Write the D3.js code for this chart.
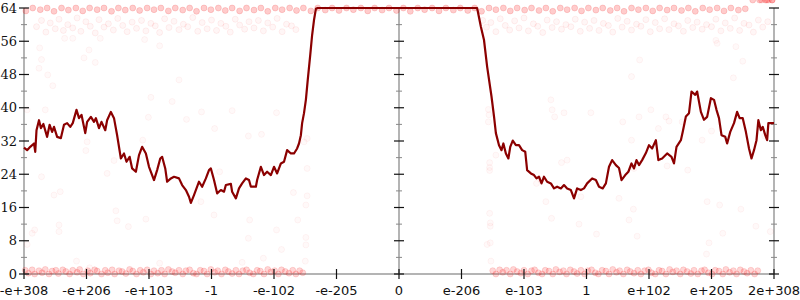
<!DOCTYPE html>
<html><head><meta charset="utf-8">
<script src="https://cdn.jsdelivr.net/npm/d3@7"></script>
<style>body{margin:0;background:#fff}svg{display:block}</style>
</head><body>
<svg id="c" width="800" height="300"></svg>
<script>
// x positions are in "ordered float" tick units: -6 (= -e+308) ... 0 ... 6 (= 2e+308)
const tickLabels = ["-e+308","-e+206","-e+103","-1","-e-102","-e-205","0","e-206","e-103","1","e+102","e+205","2e+308"];
const tickPos = [-6,-5,-4,-3,-2,-1,0,1,2,3,4,5,6];
const yTicks = [0,8,16,24,32,40,48,56,64];
const yMinor = [4,12,20,28,36,44,52,60];

const lineX = [-6.00,-5.95,-5.90,-5.84,-5.82,-5.80,-5.76,-5.73,-5.69,-5.63,-5.59,-5.55,-5.52,-5.47,-5.41,-5.36,-5.31,-5.26,-5.22,-5.16,-5.12,-5.08,-5.02,-4.99,-4.93,-4.88,-4.85,-4.80,-4.76,-4.70,-4.67,-4.61,-4.56,-4.51,-4.45,-4.40,-4.36,-4.31,-4.27,-4.21,-4.16,-4.11,-4.05,-4.00,-3.92,-3.87,-3.82,-3.79,-3.74,-3.71,-3.65,-3.60,-3.52,-3.47,-3.41,-3.36,-3.33,-3.28,-3.20,-3.15,-3.09,-3.04,-3.01,-2.96,-2.91,-2.85,-2.80,-2.77,-2.69,-2.67,-2.61,-2.56,-2.51,-2.45,-2.40,-2.37,-2.29,-2.27,-2.21,-2.16,-2.11,-2.05,-2.00,-1.95,-1.89,-1.84,-1.79,-1.73,-1.68,-1.63,-1.60,-1.57,-1.55,-1.52,-1.49,-1.46,-1.42,-1.39,-1.36,-1.33,-1.30,
 1.25,1.31,1.36,1.41,1.48,1.52,1.55,1.60,1.64,1.67,1.71,1.75,1.78,1.82,1.87,1.92,1.97,2.02,2.05,2.11,2.16,2.20,2.24,2.28,2.32,2.37,2.43,2.48,2.53,2.59,2.64,2.69,2.75,2.80,2.85,2.91,2.96,3.01,3.09,3.15,3.20,3.26,3.31,3.36,3.41,3.47,3.52,3.56,3.62,3.67,3.72,3.76,3.80,3.84,3.89,3.95,4.00,4.05,4.11,4.15,4.21,4.29,4.36,4.40,4.44,4.51,4.54,4.59,4.64,4.68,4.74,4.77,4.83,4.88,4.93,4.99,5.04,5.08,5.12,5.16,5.22,5.25,5.30,5.36,5.41,5.45,5.50,5.55,5.60,5.64,5.68,5.72,5.75,5.79,5.82,5.86,5.89,5.91,6.00];
const lineY = [30.4,29.8,30.6,31.4,29.4,34.6,37.0,35.1,36.1,33.0,35.9,34.2,35.4,33.0,32.7,35.9,36.3,35.4,36.3,39.5,37.5,38.3,33.9,36.6,37.8,36.6,37.5,35.1,36.6,34.6,37.0,39.0,37.5,33.4,27.8,29.0,27.0,28.2,25.4,24.6,28.6,30.6,29.0,25.8,22.6,25.0,27.8,28.2,25.4,22.2,23.0,23.4,23.0,21.4,20.2,18.6,17.1,19.0,22.2,21.0,23.0,25.0,25.4,22.6,19.4,20.2,19.8,21.4,21.7,19.8,18.2,20.6,21.8,23.0,22.6,21.0,21.0,22.6,25.8,23.8,24.6,23.8,25.8,24.2,26.6,27.0,29.8,29.0,29.0,30.2,31.4,33.4,36.3,38.7,41.9,46.7,52.7,57.5,61.1,63.8,64,
 64,59.5,56.3,49.9,42.7,37.9,33.9,31.0,29.8,31.4,29.0,27.8,30.6,32.1,31.0,31.0,29.8,29.4,25.0,24.2,23.8,23.0,23.4,21.8,23.4,22.2,21.8,20.6,21.0,20.6,21.4,20.6,20.2,18.2,20.6,20.2,20.6,21.8,23.0,22.6,21.0,20.6,21.8,25.8,27.4,26.2,25.5,22.6,23.8,24.6,26.6,25.4,27.4,26.2,27.4,29.1,31.0,30.2,32.2,27.4,27.8,29.0,28.2,26.6,30.6,32.2,34.2,37.9,38.7,43.9,43.1,43.9,39.0,37.1,37.8,42.3,41.9,39.5,37.5,33.4,33.0,31.4,34.2,36.3,39.0,37.5,37.5,34.2,30.2,27.8,29.8,32.2,37.0,34.6,35.4,33.4,32.2,36.3,36.3];

// faint sample points
const lowBandX = [-5.98,-5.93,-5.87,-5.83,-5.76,-5.71,-5.66,-5.60,-5.55,-5.49,-5.45,-5.38,-5.33,-5.27,-5.22,-5.15,-5.11,-5.05,-4.98,-4.94,-4.87,-4.83,-4.76,-4.70,-4.66,-4.59,-4.55,-4.48,-4.43,-4.37,-4.31,-4.26,-4.20,-4.14,-4.09,-4.03,-3.97,-3.92,-3.86,-3.80,-3.75,-3.69,-3.63,-3.58,-3.52,-3.46,-3.41,-3.35,-3.29,-3.24,-3.18,-3.12,-3.07,-3.01,-2.95,-2.90,-2.84,-2.78,-2.73,-2.67,-2.61,-2.56,-2.50,-2.44,-2.39,-2.33,-2.27,-2.22,-2.16,-2.10,-2.05,-1.99,-1.93,-1.88,-1.82,-1.76,-1.70,-1.65,-1.59,-1.54,
 1.50,1.55,1.61,1.66,1.72,1.78,1.83,1.89,1.95,2.00,2.06,2.12,2.17,2.23,2.29,2.34,2.40,2.46,2.51,2.57,2.63,2.68,2.74,2.80,2.85,2.91,2.97,3.02,3.08,3.14,3.19,3.25,3.31,3.36,3.42,3.48,3.53,3.59,3.65,3.70,3.76,3.82,3.87,3.93,3.99,4.04,4.10,4.16,4.21,4.27,4.33,4.38,4.44,4.50,4.55,4.61,4.67,4.72,4.78,4.84,4.89,4.95,5.01,5.06,5.12,5.18,5.23,5.29,5.35,5.40,5.46,5.52,5.57,5.63,5.69,5.74,5.80,5.86,5.91,5.97];
const lowBandY = [0.9,0.2,1.0,0,0.8,0.3,1.1,0,0.7,0.9,0.1,1.0,0.6,0,0.9,0.4,1.1,0,0.8,0.2,1.0,0.7,0,0.9,0.3,1.0,0,0.8,0.6,0.1,1.1,0.7,0,0.9,0.4,1.0,0,0.8,0.2,0.9,0,1.1,0.6,0.3,0.9,0,0.8,1.0,0.2,0,0.9,0.7,0,1.1,0.4,0.8,0,1.0,0.6,0.1,0.9,0,0.8,1.0,0.3,0,0.9,0.7,0,1.1,0.5,0.8,0,1.0,0.6,0.2,0.9,0,0.8,0.3,
 0.8,0,1.0,0.4,0.9,0,1.1,0.6,0.2,0.9,0,0.8,1.0,0.3,0,0.9,0.7,0,1.1,0.5,0.8,0,1.0,0.6,0.1,0.9,0,0.8,1.0,0.3,0,0.9,0.7,0,1.1,0.4,0.8,0,1.0,0.6,0.2,0.9,0,0.8,1.0,0.3,0,0.9,0.7,0,1.1,0.5,0.8,0,1.0,0.6,0.1,0.9,0,0.8,1.0,0.3,0,0.9,0.7,0,1.1,0.4,0.8,0,1.0,0.6,0.2,0.9,0,0.8];
const topBandX = [-5.97,-5.86,-5.74,-5.63,-5.52,-5.40,-5.29,-5.17,-5.06,-4.95,-4.83,-4.72,-4.60,-4.49,-4.38,-4.26,-4.15,-4.03,-3.92,-3.81,-3.69,-3.58,-3.46,-3.35,-3.24,-3.12,-3.01,-2.89,-2.78,-2.67,-2.55,-2.44,-2.32,-2.21,-2.10,-1.98,-1.87,-1.75,-1.64,-1.53,-1.41,-1.30,-1.18,-1.07,-0.96,-0.84,-0.73,-0.61,-0.50,-0.39,-0.27,-0.16,-0.04,0.07,0.18,0.30,0.41,0.53,0.64,0.75,0.87,0.98,1.10,1.21,1.32,1.44,1.55,1.67,1.78,1.89,2.01,2.12,2.24,2.35,2.46,2.58,2.69,2.81,2.92,3.03,3.15,3.26,3.38,3.49,3.60,3.72,3.83,3.95,4.06,4.17,4.29,4.40,4.52,4.63,4.74,4.86,4.97,5.09,5.20,5.31,5.43,5.54,5.66,5.77,5.88,5.97];
const topBandY = [63.3,64,63.6,64,63.2,64,63.5,64,63.3,64,63.6,64,63.2,64,63.5,64,63.4,64,63.6,64,63.3,64,63.5,64,63.2,64,63.6,64,63.4,64,63.3,64,63.5,64,63.2,64,63.6,64,63.4,64,63.3,64,63.5,64,63.4,64,63.6,64,63.3,64,63.5,64,63.4,64,63.2,64,63.6,64,63.3,64,63.5,64,63.4,64,63.2,64,63.6,64,63.3,64,63.5,64,63.4,64,63.2,64,63.6,64,63.3,64,63.5,64,63.4,64,63.2,64,63.6,64,63.3,64,63.5,64,63.4,64,63.2,64,63.6,64,63.3,64,63.5,63.8];
const clusterX = [-5.80,-5.72,-5.65,-5.58,-5.50,-5.44,-5.37,-5.30,-5.22,-5.15,-5.09,-5.01,-4.94,-4.86,-4.80,-4.72,-4.65,-4.57,-4.50,-4.42,-4.35,-4.27,-4.20,-4.12,-4.05,-3.97,-3.90,-3.83,-3.75,-3.68,-3.60,-3.52,-3.45,-3.38,-3.30,-3.22,-3.15,-3.07,-3.00,-2.92,-2.85,-2.77,-2.70,-2.62,-2.55,-2.47,-2.40,-2.32,-2.25,-2.17,-2.10,-2.02,-1.95,-1.87,-1.80,-1.72,-1.65,
 1.34,1.40,1.47,1.55,1.62,1.70,1.77,1.85,1.92,2.00,2.07,2.15,2.22,2.30,2.37,2.45,2.52,2.60,2.67,2.75,2.82,2.90,2.97,3.05,3.12,3.20,3.27,3.35,3.42,3.50,3.57,3.65,3.72,3.80,3.87,3.95,4.02,4.10,4.17,4.25,4.32,4.40,4.47,4.55,4.62,4.70,4.77,4.85,4.92,5.00,5.07,5.15,5.22,5.30,5.37,5.45,5.52,5.60,5.67,5.75,5.82,5.90];
const clusterY = [59.5,61.0,58.2,60.4,59.0,61.3,58.6,60.0,59.2,61.6,58.4,60.7,59.6,58.0,61.2,59.4,60.2,58.7,61.5,59.8,58.3,60.6,59.1,61.0,58.5,60.3,59.7,58.1,61.4,59.3,60.8,58.8,60.1,59.5,61.7,58.4,60.5,59.0,61.1,58.6,60.3,59.6,58.2,61.3,59.9,58.9,60.7,59.2,61.0,58.5,60.4,59.4,61.5,58.3,60.1,59.7,58.8,
 61.0,59.4,60.5,58.3,61.4,59.8,58.7,60.9,59.2,61.6,58.5,60.2,59.6,58.1,61.1,59.3,60.7,58.9,60.0,59.5,61.3,58.4,60.6,59.1,61.0,58.6,60.3,59.8,58.2,61.5,59.4,60.8,58.7,60.1,59.6,61.2,58.3,60.5,59.0,61.4,58.8,60.2,59.7,58.4,61.0,59.3,60.6,58.9,60.0,59.5,61.3,58.5,60.4,59.1,61.6,58.6,60.3,59.9,58.2,61.1,59.4,60.7];
const sparseX = [-5.75,-5.72,-5.76,-5.62,-5.54,-4.96,-5.04,-4.86,-5.35,-5.22,-4.78,-4.07,-3.83,-3.52,-3.97,-5.95,-5.87,-5.83,-5.44,-5.44,-4.53,-4.51,-4.33,-4.05,-5.16,-4.95,-3.83,-3.17,-2.96,-2.39,-1.96,-1.62,-1.49,-2.41,-1.88,-1.49,-1.49,-2.51,-2.17,-1.50,-5.95,-5.66,-4.99,-5.01,-4.56,-4.67,-5.72,-5.42,-5.52,-4.10,-4.01,-3.63,-3.40,-3.16,-2.67,-1.96,-2.95,-2.41,-2.20,-1.47,-1.52,-2.87,-1.47,-1.69,-1.47,
 1.45,1.46,1.46,1.41,1.46,1.47,2.35,2.44,2.88,3.16,3.75,3.68,3.81,4.93,5.13,5.47,5.71,5.18,5.94,4.96,4.92,5.09,5.39,5.50,5.35,5.07,1.43,1.44,1.43,1.55,1.45,1.45,1.45,2.20,2.60,2.69,2.45,2.49,2.64,3.07,2.91,3.52,3.72,3.84,3.58,2.27,2.43,3.72,3.85,4.27,4.32,4.85,5.00,5.85,4.15,4.03,4.53,4.62,4.29,3.76];
const sparseY = [54.4,51.6,49.5,47.9,45.3,53.9,52.0,50.9,56.7,56.7,56.7,56.4,54.9,46.7,42.5,7.1,9.8,10.6,11.8,10.2,15.2,12.8,11.4,13.2,3.1,1.5,2.6,17.4,14.2,13.0,10.6,13.0,16.6,8.6,5.9,8.8,7.0,2.8,3.8,3.1,39.5,39.5,31.8,29.7,27.3,24.2,23.4,19.8,19.0,32.2,37.7,41.5,37.2,39.0,39.3,38.8,35.0,33.2,33.6,32.6,31.8,24.6,25.4,19.6,18.8,
 14.6,12.3,11.5,7.1,7.5,3.1,17.4,13.4,12.0,9.6,15.6,13.0,9.1,17.4,16.6,15.6,11.5,9.8,10.2,7.5,4.8,55.5,54.7,51.2,47.2,56.2,39.6,38.3,36.6,28.6,26.8,25.6,24.9,21.8,26.8,27.4,39.5,37.8,38.8,38.8,18.6,18.2,32.2,37.8,36.6,22.6,41.9,47.5,51.5,37.8,36.8,32.2,34.4,33.2,35.0,39.5,36.6,25.0,26.0,25.4,23.0,23.0];

const svg = d3.select("#c");
const x = d3.scaleLinear().domain([-6, 6]).range([24, 774]);
const y = d3.scaleLinear().domain([0, 64]).range([274, 8]);

// axis lines (under the points)
const axG = svg.append("g");
axG.append("line").attr("x1", x(-6)).attr("x2", x(6)).attr("y1", y(0)).attr("y2", y(0))
  .attr("stroke", "#b4b4b4").attr("stroke-width", 2);
[-6, 0, 6].forEach(v => axG.append("line").attr("x1", x(v)).attr("x2", x(v))
  .attr("y1", y(64)).attr("y2", y(0)).attr("stroke", "#b4b4b4").attr("stroke-width", 2));

// points
function drawPts(xs, ys, fillA, strokeA) {
  svg.append("g").selectAll("circle").data(xs.map((v, i) => [v, ys[i]])).join("circle")
    .attr("cx", d => x(d[0])).attr("cy", d => y(d[1])).attr("r", 3)
    .attr("fill", `rgba(255,0,0,${fillA})`)
    .attr("stroke", `rgba(230,0,0,${strokeA})`).attr("stroke-width", 1);
}
drawPts(sparseX, sparseY, 0.025, 0.045);
drawPts(clusterX, clusterY, 0.035, 0.06);
drawPts(lowBandX, lowBandY, 0.16, 0.12);
drawPts(topBandX, topBandY, 0.2, 0.14);

// ticks
const tk = svg.append("g");
[-6, 0, 6].forEach(v => {
  const px = x(v);
  yMinor.forEach(t => tk.append("line").attr("x1", px - 3).attr("x2", px + 3)
    .attr("y1", y(t)).attr("y2", y(t)).attr("stroke", "#888").attr("stroke-width", 1));
  yTicks.forEach(t => tk.append("line").attr("x1", px - 5).attr("x2", px + 5)
    .attr("y1", y(t)).attr("y2", y(t)).attr("stroke", "#111").attr("stroke-width", 1.2));
});
tickPos.forEach(t => tk.append("line").attr("x1", x(t)).attr("x2", x(t))
  .attr("y1", y(0) - 5).attr("y2", y(0) + 5).attr("stroke", "#111").attr("stroke-width", 1.2));

// line
svg.append("path").datum(lineX.map((v, i) => [v, lineY[i]]))
  .attr("fill", "none").attr("stroke", "#8b0000").attr("stroke-width", 2.2)
  .attr("stroke-linejoin", "round")
  .attr("d", d3.line().x(d => x(d[0])).y(d => y(d[1])));

// labels
svg.append("g").selectAll("text").data(yTicks).join("text")
  .attr("x", 17).attr("y", d => y(d)).attr("dy", "0.35em")
  .attr("text-anchor", "end").attr("font-family", "DejaVu Serif").attr("font-size", 13)
  .attr("fill", "#111").text(d => d);
svg.append("g").selectAll("text").data(tickPos).join("text")
  .attr("x", d => x(d)).attr("y", 295)
  .attr("text-anchor", "middle").attr("font-family", "DejaVu Sans").attr("font-size", 13)
  .attr("fill", "#111").text((d, i) => tickLabels[i]);
</script>
</body></html>
